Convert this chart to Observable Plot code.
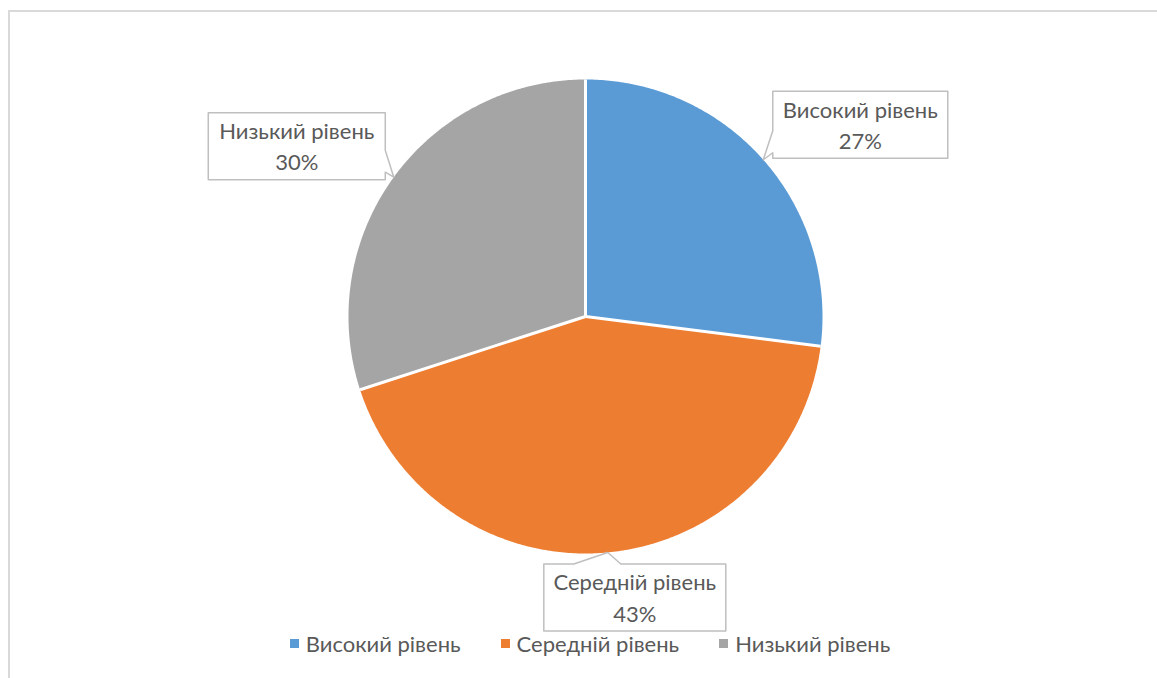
<!DOCTYPE html>
<html><head><meta charset="utf-8">
<script src="https://cdn.jsdelivr.net/npm/d3@7"></script>
<script src="https://cdn.jsdelivr.net/npm/@observablehq/plot@0.6"></script>
<style>
body{margin:0;background:#fff;font-family:Lato,"Open Sans",sans-serif;width:1157px;height:678px;overflow:hidden;position:relative;}
#frame{position:absolute;left:8px;top:10px;width:1200px;height:700px;border-left:2px solid #d9d9d9;border-top:2px solid #d9d9d9;}
#chart{position:absolute;left:0;top:0;}
#legend{position:absolute;top:630px;left:0;width:1180px;display:flex;justify-content:center;gap:40px;font-size:22px;color:#595959;font-family:Lato,"Open Sans",sans-serif;}
#legend .it{display:flex;align-items:center;gap:7px;}
#legend .sw{width:9px;height:9px;display:inline-block;}
</style></head>
<body>
<div id="frame"></div>
<div id="chart"></div>
<div id="legend"></div>
<script>
const categories = ["Високий рівень", "Середній рівень", "Низький рівень"];
const values = [27, 43, 30];
const colors = ["#5B9BD5", "#ED7D31", "#A5A5A5"];

// layout (pixels): callout box centre relative to the slice tip, box size, tail base
const calloutOffset = [[97, -35], [27, 45], [-97, -31]];
const calloutSize = [[175, 67], [182, 67], [177, 67]];
const calloutTail = [["left", 6, 28], ["top", -61, -14], ["right", 4, 26]];

const total = d3.sum(values);
const PX = 237; // pixels per data unit
const k = 1 / PX;

let acc = 0;
const slices = categories.map((c, i) => {
  const a0 = acc / total * 2 * Math.PI;
  acc += values[i];
  const a1 = acc / total * 2 * Math.PI;
  return {cat: c, value: values[i], a0, a1, mid: (a0 + a1) / 2};
});

const slicePts = [];
for (const s of slices) {
  slicePts.push({cat: s.cat, x: 0, y: 0});
  const n = Math.max(2, Math.ceil((s.a1 - s.a0) / 0.01));
  for (let j = 0; j <= n; j++) {
    const a = s.a0 + (s.a1 - s.a0) * j / n;
    slicePts.push({cat: s.cat, x: Math.sin(a), y: Math.cos(a)});
  }
  slicePts.push({cat: s.cat, x: 0, y: 0});
}

const seps = slices.map(s => ({x1: 0, y1: 0, x2: Math.sin(s.a0), y2: Math.cos(s.a0)}));

const calloutPts = [];
const labels = [];
slices.forEach((s, i) => {
  const tx = Math.sin(s.mid), ty = Math.cos(s.mid);
  const [ox, oy] = calloutOffset[i];
  const [w, h] = calloutSize[i];
  const [side, b0, b1] = calloutTail[i];
  const tip = [-ox, -oy];
  const hw = w / 2, hh = h / 2;
  let p = [];
  p.push([-hw, -hh]);
  if (side === "top") p.push([b0, -hh], tip, [b1, -hh]);
  p.push([hw, -hh]);
  if (side === "right") p.push([hw, b0], tip, [hw, b1]);
  p.push([hw, hh], [-hw, hh]);
  if (side === "left") p.push([-hw, b1], tip, [-hw, b0]);
  p.push([-hw, -hh]);
  for (const [px, py] of p) {
    calloutPts.push({cat: s.cat, x: tx + (ox + px) * k, y: ty - (oy + py) * k});
  }
  labels.push({
    x: tx + ox * k, y: ty - (oy - 1.5) * k,
    text: s.cat + "\n" + Math.round(s.value / total * 100) + "%"
  });
});

const plot = Plot.plot({
  width: 1157, height: 678,
  marginLeft: 348, marginRight: 335, marginTop: 79, marginBottom: 125,
  x: {domain: [-1, 1], axis: null},
  y: {domain: [-1, 1], axis: null},
  color: {domain: categories, range: colors},
  style: {background: "transparent", fontFamily: "Lato, 'Open Sans', sans-serif"},
  marks: [
    Plot.line(slicePts, {x: "x", y: "y", z: "cat", fill: "cat", stroke: "none", curve: "linear"}),
    Plot.link(seps, {x1: "x1", y1: "y1", x2: "x2", y2: "y2", stroke: "white", strokeWidth: 3}),
    Plot.line(calloutPts, {x: "x", y: "y", z: "cat", fill: "white", stroke: "#bfbfbf", strokeWidth: 1.5, curve: "linear"}),
    Plot.text(labels, {x: "x", y: "y", text: "text", fontSize: 22, fill: "#595959", lineHeight: 1.42, textAnchor: "middle"})
  ]
});
document.getElementById("chart").appendChild(plot);

const leg = document.getElementById("legend");
categories.forEach((c, i) => {
  const it = document.createElement("span");
  it.className = "it";
  it.innerHTML = `<span class="sw" style="background:${colors[i]}"></span><span>${c}</span>`;
  leg.appendChild(it);
});
</script>
</body></html>
